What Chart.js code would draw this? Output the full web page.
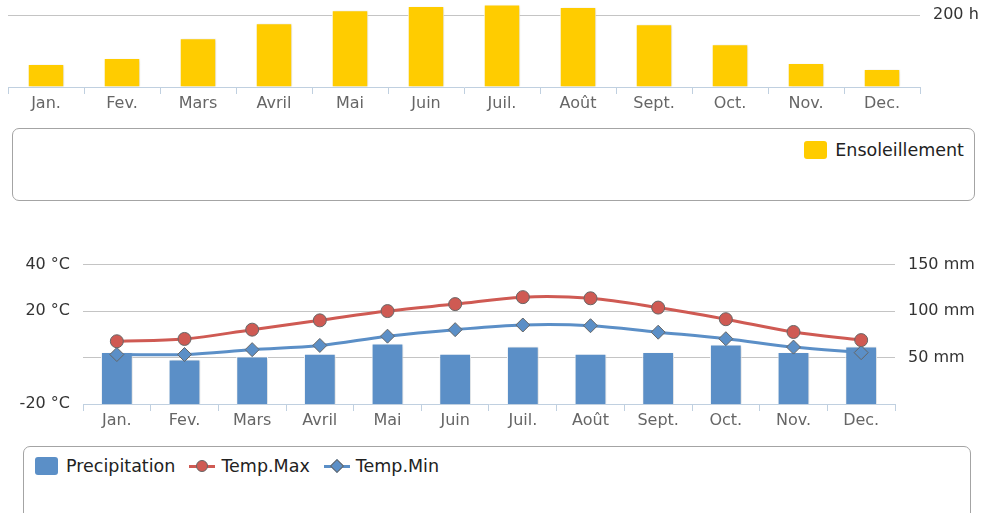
<!DOCTYPE html>
<html>
<head>
<meta charset="utf-8">
<script src="https://cdn.jsdelivr.net/npm/chart.js@4.4.1/dist/chart.umd.min.js"></script>
<style>
body{margin:0;width:981px;height:513px;overflow:hidden;background:#fff;font-family:"DejaVu Sans",sans-serif;position:relative}
canvas{position:absolute;left:0}
#sun{top:-79px}
#clim{top:242px}
.legendBox{position:absolute;border:1px solid #a4a4a4;border-radius:7px;box-sizing:border-box;font-size:17.5px;color:#222;white-space:nowrap}
#sunLegend{left:12px;top:128px;width:963px;height:73px;text-align:right;padding:11px 10px 0 0}
#climLegend{left:23px;top:446px;width:948px;height:90px;padding:9px 0 0 11px}
.item{display:inline-flex;align-items:center;margin-right:14px;vertical-align:top}
.item:last-child{margin-right:0}
.swatch{display:inline-block;width:23px;height:18px;border-radius:3px;margin-right:8px}
.sym{position:relative;display:inline-block;width:26px;height:18px;margin-right:6px}
.sym .ln{position:absolute;left:0;right:0;top:8px;height:3px}
.sym .dot{position:absolute;left:7px;top:3px;width:12px;height:12px;border-radius:50%;border:1px solid #666;box-sizing:border-box}
.sym .dia{position:absolute;left:8px;top:4px;width:10px;height:10px;transform:rotate(45deg);border:1px solid #666;box-sizing:border-box}
</style>
</head>
<body>
<canvas id="sun" width="981" height="196"></canvas>
<div id="sunLegend" class="legendBox"></div>
<canvas id="clim" width="981" height="198"></canvas>
<div id="climLegend" class="legendBox"></div>
<script>
const months = ["Jan.", "Fev.", "Mars", "Avril", "Mai", "Juin", "Juil.", "Août", "Sept.", "Oct.", "Nov.", "Dec."];
const sunshineHours = [64, 81, 136, 178, 214, 226, 230, 223, 175, 119, 67, 50];
const precipitationMm = [56, 48, 51, 54, 65, 54, 62, 54, 56, 64, 56, 62];
const tempMax = [7, 8, 12, 16, 20, 23, 26, 25.5, 21.5, 16.5, 11, 7.5];
const tempMin = [1.3, 1.3, 3.4, 5.2, 9.2, 12, 14, 13.7, 10.9, 8.1, 4.5, 2.1];

const yellow = "#FFCC00";
const blue = "#5B8FC7";
const red = "#CF5A53";
const axisBlue = "#C0D0E0";
const gridGray = "#C4C4C4";
const labelFont = {family: "DejaVu Sans", size: 16};

// soft drop shadow behind the columns
const barShadow = {
  id: "barShadow",
  beforeDatasetDraw(chart, args) {
    if (args.meta.type !== "bar") return;
    const ctx = chart.ctx;
    ctx.save();
    ctx.shadowColor = "rgba(0,0,0,0.18)";
    ctx.shadowOffsetX = 1;
    ctx.shadowOffsetY = 1;
    ctx.shadowBlur = 3;
  },
  afterDatasetDraw(chart, args) {
    if (args.meta.type !== "bar") return;
    chart.ctx.restore();
  }
};

const categoryAxis = {
  grid: {display: true, drawOnChartArea: false, offset: true, tickLength: 7, color: axisBlue},
  border: {color: axisBlue, width: 1},
  ticks: {color: "#666", font: labelFont, padding: 0},
  afterFit(s) { s.height = 30; }
};

const sunChart = new Chart(document.getElementById("sun"), {
  type: "bar",
  data: {
    labels: months,
    datasets: [{
      label: "Ensoleillement",
      data: sunshineHours,
      backgroundColor: yellow,
      borderColor: "#fff",
      borderWidth: 1,
      barPercentage: 0.48,
      categoryPercentage: 1
    }]
  },
  options: {
    responsive: false,
    animation: false,
    layout: {padding: {left: 8, top: 3, right: 0, bottom: 0}},
    plugins: {legend: {display: false}, tooltip: {enabled: false}},
    scales: {
      x: categoryAxis,
      y: {
        position: "right",
        min: 0,
        max: 400,
        grid: {drawTicks: false, color: c => c.tick.value === 0 ? "transparent" : gridGray},
        border: {display: false},
        ticks: {stepSize: 200, color: "#333", font: labelFont, padding: 13, callback: v => v ? v + " h" : ""},
        afterFit(s) { s.width = 61; }
      }
    }
  },
  plugins: [barShadow]
});

const climChart = new Chart(document.getElementById("clim"), {
  data: {
    labels: months,
    datasets: [
      {
        type: "bar",
        label: "Precipitation",
        data: precipitationMm,
        yAxisID: "yRain",
        backgroundColor: blue,
        borderColor: "#fff",
        borderWidth: 1,
        barPercentage: 0.47,
        categoryPercentage: 1,
        order: 3
      },
      {
        type: "line",
        label: "Temp.Max",
        data: tempMax,
        yAxisID: "yTemp",
        borderColor: red,
        borderWidth: 3,
        tension: 0.35,
        pointStyle: "circle",
        pointRadius: 6.5,
        pointBackgroundColor: red,
        pointBorderColor: "#666",
        pointBorderWidth: 1,
        order: 1
      },
      {
        type: "line",
        label: "Temp.Min",
        data: tempMin,
        yAxisID: "yTemp",
        borderColor: blue,
        borderWidth: 3,
        tension: 0.35,
        pointStyle: "rectRot",
        pointRadius: 7,
        pointBackgroundColor: blue,
        pointBorderColor: "#666",
        pointBorderWidth: 1,
        order: 2
      }
    ]
  },
  options: {
    responsive: false,
    animation: false,
    layout: {padding: {left: 0, top: 13, right: 0, bottom: 6}},
    plugins: {legend: {display: false}, tooltip: {enabled: false}},
    scales: {
      x: categoryAxis,
      yTemp: {
        position: "left",
        min: -20,
        max: 40,
        grid: {drawTicks: false, color: c => c.tick.value === -20 ? "transparent" : gridGray},
        border: {display: false},
        ticks: {stepSize: 20, color: "#333", font: labelFont, padding: 13, callback: v => v === 0 ? "" : v + " °C"},
        afterFit(s) { s.width = 83; }
      },
      yRain: {
        position: "right",
        min: 0,
        max: 150,
        grid: {display: false, drawTicks: false},
        border: {display: false},
        ticks: {stepSize: 50, color: "#333", font: labelFont, padding: 13, callback: v => v ? v + " mm" : ""},
        afterFit(s) { s.width = 86; }
      }
    }
  },
  plugins: [barShadow]
});

// html legends built from the chart datasets
function buildLegend(chart, boxId) {
  const box = document.getElementById(boxId);
  chart.data.datasets.forEach(ds => {
    const item = document.createElement("span");
    item.className = "item";
    if (ds.type === "line") {
      const sym = document.createElement("span");
      sym.className = "sym";
      const ln = document.createElement("span");
      ln.className = "ln";
      ln.style.background = ds.borderColor;
      const mk = document.createElement("span");
      mk.className = ds.pointStyle === "rectRot" ? "dia" : "dot";
      mk.style.background = ds.pointBackgroundColor;
      sym.appendChild(ln);
      sym.appendChild(mk);
      item.appendChild(sym);
    } else {
      const sw = document.createElement("span");
      sw.className = "swatch";
      sw.style.background = ds.backgroundColor;
      item.appendChild(sw);
    }
    const txt = document.createElement("span");
    txt.textContent = ds.label;
    item.appendChild(txt);
    box.appendChild(item);
  });
}
buildLegend(sunChart, "sunLegend");
buildLegend(climChart, "climLegend");
</script>
</body>
</html>
